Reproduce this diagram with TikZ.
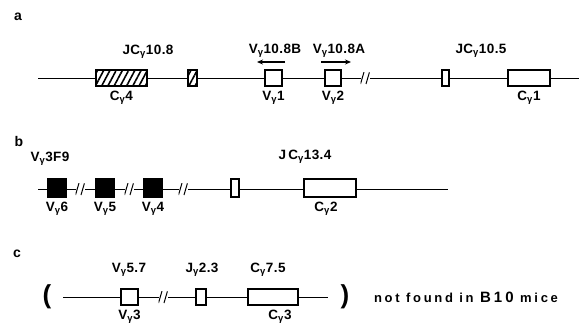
\documentclass[tikz,border=0pt]{standalone}
\usepackage{fontspec}
\setmainfont{Liberation Sans}
\newfontfamily\lblfont[LetterSpace=3]{Liberation Sans}
\newfontfamily\notefont[LetterSpace=21]{Liberation Sans}
\usetikzlibrary{positioning,patterns.meta,arrows.meta}
\newcommand\gs{\textsubscript{γ}}
\tikzset{
  dna/.style={line width=0.9pt},
  exon/.style={draw, line width=1.1pt, fill=white, inner sep=0pt, minimum height=16pt},
  hatchexon/.style={exon, preaction={fill=white},
    pattern={Lines[angle=62,distance=5.5pt,line width=1.6pt]}},
  blackexon/.style={exon, fill=black, minimum height=18pt},
  brk/.style={inner sep=0pt, minimum width=9pt, minimum height=12pt, fill=white,
    path picture={
      \draw[line width=1pt] (path picture bounding box.south west)
        -- ([xshift=-1pt]path picture bounding box.north);
      \draw[line width=1pt] ([xshift=1pt]path picture bounding box.south)
        -- (path picture bounding box.north east);}},
  lbl/.style={font=\lblfont\bfseries\fontsize{13.5}{15}\selectfont, inner sep=1pt},
  panel/.style={font=\bfseries\fontsize{14}{16}\selectfont, inner sep=0pt},
  dir/.style={line width=1.3pt, -{Stealth[length=6pt,width=5pt]}},
  paren/.style={font=\bfseries\fontsize{26}{28}\selectfont, inner sep=0pt}
}
\begin{document}
\begin{tikzpicture}[x=1pt,y=-1pt]
  \useasboundingbox (0,0) rectangle (579,324);
  % panel a
  \node[panel] (pa) at (18,17) {a};
  \coordinate (a0) at (38,78);
  \coordinate (a1) at (579,78);
  \draw[dna] (a0) -- (a1);
  \node[hatchexon, minimum width=51pt] (c4) at (121.5,78) {};
  \node[hatchexon, minimum width=9pt] (j4) at (192.5,78) {};
  \node[exon, minimum width=17pt] (v1) at (273.5,78) {};
  \node[exon, minimum width=16pt] (v2) at (333,78) {};
  \node[brk] (ab1) at (365,78) {};
  \node[exon, minimum width=7pt] (j1) at (445.5,78) {};
  \node[exon, minimum width=42pt] (c1) at (529,78) {};
  \node[lbl] (jc108) at (148,52) {JC\gs10.8};
  \node[lbl] (v108b) at (275,51) {V\gs10.8B};
  \node[lbl] (v108a) at (339,51) {V\gs10.8A};
  \node[lbl] (jc105) at (481,51) {JC\gs10.5};
  \coordinate (ba0) at (285,62);
  \coordinate (ba1) at (257,62);
  \coordinate (aa0) at (321,62);
  \coordinate (aa1) at (351,62);
  \draw[dir] (ba0) -- (ba1);
  \draw[dir] (aa0) -- (aa1);
  \node[lbl, below=3pt of c4] {C\gs4};
  \node[lbl, below=3pt of v1] {V\gs1};
  \node[lbl, below=3pt of v2] {V\gs2};
  \node[lbl, below=3pt of c1] {C\gs1};
  % panel b
  \node[panel] (pb) at (19,141) {b};
  \coordinate (b0) at (38,189);
  \coordinate (b1) at (448,189);
  \draw[dna] (b0) -- (b1);
  \node[blackexon, minimum width=18pt] (v6) at (57,188) {};
  \node[blackexon, minimum width=18pt] (v5) at (105,188) {};
  \node[blackexon, minimum width=18pt] (v4) at (153,188) {};
  \node[brk] (bb1) at (80,189) {};
  \node[brk] (bb2) at (129,189) {};
  \node[brk] (bb3) at (183,189) {};
  \node[exon, minimum width=8pt, minimum height=18pt] (j2) at (235,188) {};
  \node[exon, minimum width=52pt, minimum height=18pt] (c2) at (330,188) {};
  \node[lbl] (v3f9) at (50,159) {V\gs3F9};
  \node[lbl] (jc134) at (305,157) {J\,C\gs13.4};
  \node[lbl, below=3pt of v6] {V\gs6};
  \node[lbl, below=3pt of v5] {V\gs5};
  \node[lbl, below=3pt of v4] {V\gs4};
  \node[lbl, below=3pt of c2, xshift=-4pt] {C\gs2};
  % panel c
  \node[panel] (pc) at (17,254) {c};
  \node[paren] (lp) at (47,297) {(};
  \node[paren] (rp) at (345,297) {)};
  \coordinate (c0) at (63,297);
  \coordinate (c1e) at (328,297);
  \draw[dna] (c0) -- (c1e);
  \node[exon, minimum width=17pt] (v3) at (129.5,297) {};
  \node[brk] (cb1) at (163,297) {};
  \node[exon, minimum width=10pt] (jg) at (201,297) {};
  \node[exon, minimum width=50pt] (c3) at (273,297) {};
  \node[lbl] (v57) at (129,270) {V\gs5.7};
  \node[lbl] (j23) at (202,270) {J\gs2.3};
  \node[lbl] (c75) at (268,270) {C\gs7.5};
  \node[lbl, below=3pt of v3] {V\gs3};
  \node[lbl, below=3pt of c3, xshift=7pt] {C\gs3};
  \node[font=\notefont\bfseries\fontsize{13}{14}\selectfont, inner sep=0pt] (note) at (466,297)
    {not found in {\fontsize{15}{14}\selectfont B10} mice};
\end{tikzpicture}
\end{document}
